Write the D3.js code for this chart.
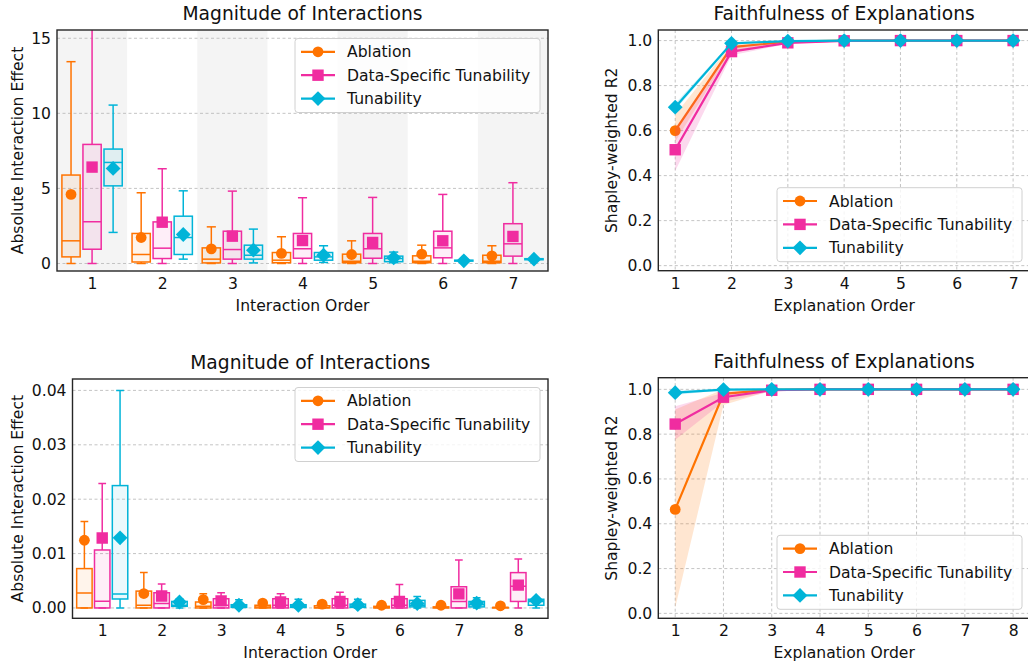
<!DOCTYPE html>
<html>
<head>
<meta charset="utf-8">
<script src="https://cdn.jsdelivr.net/npm/d3@7"></script>
<style>
body { margin: 0; background: #fff; }
svg { font-family: "DejaVu Sans", sans-serif; }
</style>
</head>
<body>
<div id="chart"></div>
<script>
const methods = ["Ablation", "Data-Specific Tunability", "Tunability"];
const colors = ["#ff7300", "#f02ca0", "#00b4d8"];

// top-left: box stats [low, q1, median, q3, high] per interaction order
const topOrders = [1, 2, 3, 4, 5, 6, 7];
const topAblationBox = [[0, 0.44, 1.51, 5.89, 13.44], [0, 0.1, 0.6, 2.0, 4.71], [0, 0.04, 0.29, 1.04, 2.44],
    [0, 0.05, 0.22, 0.73, 1.78], [0, 0.05, 0.15, 0.62, 1.51], [0, 0.05, 0.15, 0.51, 1.22], [0, 0.05, 0.15, 0.55, 1.18]];
const topAblationMean = [4.6, 1.73, 0.97, 0.67, 0.6, 0.62, 0.51];
const topDstBox = [[0, 0.95, 2.78, 7.93, 17.5], [0, 0.33, 1.02, 2.77, 6.31], [0, 0.29, 0.93, 2.15, 4.82],
    [0, 0.35, 0.98, 2.0, 4.38], [0, 0.35, 0.98, 2.0, 4.4], [0, 0.38, 1.04, 2.15, 4.6], [0, 0.49, 1.31, 2.65, 5.38]];
const topDstMean = [6.42, 2.75, 1.82, 1.53, 1.4, 1.51, 1.8];
const topTunBox = [[2.07, 5.17, 6.73, 7.62, 10.55], [0.29, 0.6, 1.73, 3.15, 4.84], [0.04, 0.29, 0.55, 1.22, 2.29],
    [0.07, 0.22, 0.44, 0.73, 1.18], [0.05, 0.12, 0.33, 0.49, 0.76], [0.12, 0.16, 0.19, 0.22, 0.28], [0.2, 0.25, 0.28, 0.32, 0.38]];
const topTunMean = [6.33, 1.93, 0.89, 0.55, 0.38, 0.18, 0.29];
const topYTicks = [0, 5, 10, 15];

// bottom-left
const botOrders = [1, 2, 3, 4, 5, 6, 7, 8];
const botAblationBox = [[0, 0, 0.00276, 0.00724, 0.0159], [0, 0, 0.0005, 0.0031, 0.0065], [0, 0, 0.0003, 0.0011, 0.0026],
    [0, 0, 0.0002, 0.0005, 0.0009], [0, 0, 0.0001, 0.0004, 0.0007], [0, 0, 0.0001, 0.0003, 0.0005],
    [0, 0, 0.0001, 0.0002, 0.0004], [0, 0, 0.0001, 0.0001, 0.0003]];
const botAblationMean = [0.01245, 0.00265, 0.00154, 0.0009, 0.0007, 0.0005, 0.0005, 0.0004];
const botDstBox = [[0, 0, 0.00123, 0.01066, 0.02287], [0, 0, 0.0008, 0.0028, 0.0044], [0, 0, 0.0005, 0.0017, 0.0028],
    [0, 0, 0.0005, 0.0017, 0.0026], [0, 0, 0.0005, 0.0017, 0.0029], [0, 0, 0.0005, 0.0017, 0.0043],
    [0, 0, 0.0012, 0.0039, 0.0088], [0, 0.0012, 0.0040, 0.0065, 0.009]];
const botDstMean = [0.01287, 0.0022, 0.0013, 0.0011, 0.0012, 0.0012, 0.0026, 0.0042];
const botTunBox = [[0, 0.00165, 0.00257, 0.0225, 0.040], [0, 0.0003, 0.0005, 0.0012, 0.0017], [0, 0.0001, 0.0003, 0.0006, 0.0015],
    [0, 0.0001, 0.0003, 0.0006, 0.0016], [0, 0.0001, 0.0003, 0.0007, 0.0016], [0, 0.0002, 0.0005, 0.0014, 0.0021],
    [0, 0.0002, 0.0006, 0.0012, 0.0019], [0, 0.0005, 0.0012, 0.0016, 0.0019]];
const botTunMean = [0.0129, 0.0011, 0.0005, 0.0005, 0.0006, 0.0008, 0.0009, 0.0014];
const botYTicks = [0, 0.01, 0.02, 0.03, 0.04];

// top-right: mean R2 and band per explanation order
const rtOrders = [1, 2, 3, 4, 5, 6, 7];
const rtAblation = [0.60, 0.971, 0.995, 1.0, 1.0, 1.0, 1.0];
const rtAblationLo = [0.55, 0.955, 0.99, 0.999, 1.0, 1.0, 1.0];
const rtAblationHi = [0.67, 0.985, 0.999, 1.0, 1.0, 1.0, 1.0];
const rtDst = [0.515, 0.951, 0.99, 0.999, 1.0, 1.0, 1.0];
const rtDstLo = [0.42, 0.935, 0.985, 0.998, 1.0, 1.0, 1.0];
const rtDstHi = [0.61, 0.975, 0.995, 1.0, 1.0, 1.0, 1.0];
const rtTun = [0.704, 0.988, 0.998, 1.0, 1.0, 1.0, 1.0];
const rtTunLo = [0.69, 0.983, 0.997, 1.0, 1.0, 1.0, 1.0];
const rtTunHi = [0.72, 0.993, 0.999, 1.0, 1.0, 1.0, 1.0];

// bottom-right
const rbOrders = [1, 2, 3, 4, 5, 6, 7, 8];
const rbAblation = [0.464, 0.98, 0.998, 1.0, 1.0, 1.0, 1.0, 1.0];
const rbAblationLo = [0.025, 0.93, 0.995, 1.0, 1.0, 1.0, 1.0, 1.0];
const rbAblationHi = [0.91, 1.0, 1.0, 1.0, 1.0, 1.0, 1.0, 1.0];
const rbDst = [0.845, 0.965, 0.996, 1.0, 1.0, 1.0, 1.0, 1.0];
const rbDstLo = [0.775, 0.945, 0.99, 1.0, 1.0, 1.0, 1.0, 1.0];
const rbDstHi = [0.925, 0.985, 1.0, 1.0, 1.0, 1.0, 1.0, 1.0];
const rbTun = [0.985, 0.999, 1.0, 1.0, 1.0, 1.0, 1.0, 1.0];
const rbTunLo = [0.975, 0.997, 1.0, 1.0, 1.0, 1.0, 1.0, 1.0];
const rbTunHi = [0.995, 1.0, 1.0, 1.0, 1.0, 1.0, 1.0, 1.0];
const r2Ticks = [0, 0.2, 0.4, 0.6, 0.8, 1.0];

const width = 1028, height = 665;
const fs = 15.6, titleFs = 18.7;

const svg = d3.select("#chart").append("svg")
    .attr("width", width).attr("height", height);

const markers = [
    d3.symbol(d3.symbolCircle, Math.PI * 5.4 * 5.4)(),
    d3.symbol(d3.symbolSquare, 11.4 * 11.4)(),
    "M0,-7.4L7.4,0L0,7.4L-7.4,0Z"
];

function legend(g, left, top) {
    g.append("rect")
        .attr("x", left).attr("y", top).attr("width", 245).attr("height", 74)
        .attr("rx", 3).attr("fill", "#fff").attr("fill-opacity", 0.8)
        .attr("stroke", "#d0d0d0").attr("stroke-width", 1);
    methods.forEach((m, i) => {
        const yy = top + 13.3 + i * 23.4;
        g.append("line").attr("x1", left + 6).attr("x2", left + 40)
            .attr("y1", yy).attr("y2", yy)
            .attr("stroke", colors[i]).attr("stroke-width", 2.2);
        g.append("path").attr("d", markers[i])
            .attr("transform", `translate(${left + 23},${yy})`)
            .attr("fill", colors[i]);
        g.append("text").attr("x", left + 52).attr("y", yy).attr("dy", "0.36em")
            .attr("font-size", fs).attr("fill", "#111").text(m);
    });
}

function axesText(g, box, title, xLabel, yLabel, yLabelX) {
    g.append("text").attr("x", (box.L + Math.min(box.R, 1100)) / 2).attr("y", box.T - 10)
        .attr("text-anchor", "middle").attr("font-size", titleFs).attr("fill", "#111").text(title);
    g.append("text").attr("x", (box.L + box.R) / 2).attr("y", box.B + 40)
        .attr("text-anchor", "middle").attr("font-size", fs).attr("fill", "#111").text(xLabel);
    g.append("text")
        .attr("transform", `translate(${yLabelX},${(box.T + box.B) / 2}) rotate(-90)`)
        .attr("text-anchor", "middle").attr("font-size", fs).attr("fill", "#111").text(yLabel);
}

function styleAxis(sel) {
    sel.select(".domain").remove();
    sel.selectAll("text").attr("font-size", fs).attr("fill", "#111")
        .attr("font-family", "DejaVu Sans, sans-serif");
}

function boxPanel(cfg) {
    const { L, R, T, B } = cfg.box;
    const n = cfg.orders.length;
    const x = d3.scaleLinear().domain([0.5, n + 0.5]).range([L, R]);
    const y = d3.scaleLinear().domain(cfg.yDomain).range([B, T]);
    const g = svg.append("g");
    const clipId = "clip" + cfg.id;
    g.append("clipPath").attr("id", clipId)
        .append("rect").attr("x", L).attr("y", T).attr("width", R - L).attr("height", B - T);

    if (cfg.bands) {
        g.selectAll(".band").data(cfg.orders.filter(o => o % 2 === 1)).join("rect")
            .attr("x", d => x(d - 0.5)).attr("width", x(1) - x(0))
            .attr("y", T).attr("height", B - T).attr("fill", "#f4f4f4");
    }

    g.selectAll(".grid").data(cfg.yTicks).join("line")
        .attr("x1", L).attr("x2", R).attr("y1", d => y(d)).attr("y2", d => y(d))
        .attr("stroke", "#b5b5b5").attr("stroke-width", 0.8).attr("stroke-dasharray", "3,2.5");

    const plot = g.append("g").attr("clip-path", `url(#${clipId})`);
    const offsets = [-0.3, 0, 0.3];
    const bw = x(0.26) - x(0);
    cfg.boxes.forEach((boxes, m) => {
        const col = colors[m];
        boxes.forEach((s, i) => {
            const cx = x(cfg.orders[i] + offsets[m]);
            const [lo, q1, med, q3, hi] = s;
            const bg = plot.append("g").attr("stroke", col).attr("stroke-width", 1.5);
            bg.append("line").attr("x1", cx).attr("x2", cx).attr("y1", y(lo)).attr("y2", y(q1));
            bg.append("line").attr("x1", cx).attr("x2", cx).attr("y1", y(q3)).attr("y2", y(hi));
            bg.append("line").attr("x1", cx - bw / 4).attr("x2", cx + bw / 4).attr("y1", y(lo)).attr("y2", y(lo));
            bg.append("line").attr("x1", cx - bw / 4).attr("x2", cx + bw / 4).attr("y1", y(hi)).attr("y2", y(hi));
            bg.append("rect").attr("x", cx - bw / 2).attr("width", bw)
                .attr("y", y(q3)).attr("height", Math.max(0.5, y(q1) - y(q3)))
                .attr("fill", col).attr("fill-opacity", 0.08);
            bg.append("line").attr("x1", cx - bw / 2).attr("x2", cx + bw / 2).attr("y1", y(med)).attr("y2", y(med));
        });
    });
    cfg.means.forEach((means, m) => {
        plot.selectAll(null).data(means).join("path")
            .attr("d", markers[m])
            .attr("transform", (d, i) => `translate(${x(cfg.orders[i] + offsets[m])},${y(d)})`)
            .attr("fill", colors[m]);
    });

    g.append("rect").attr("x", L).attr("y", T).attr("width", R - L).attr("height", B - T)
        .attr("fill", "none").attr("stroke", "#262626").attr("stroke-width", 1.4);

    g.append("g").attr("transform", `translate(0,${B})`)
        .call(d3.axisBottom(x).tickValues(cfg.orders).tickFormat(d3.format("d")).tickSize(0).tickPadding(7))
        .call(styleAxis);
    g.append("g").attr("transform", `translate(${L},0)`)
        .call(d3.axisLeft(y).tickValues(cfg.yTicks).tickFormat(cfg.yFormat).tickSize(0).tickPadding(6))
        .call(styleAxis);

    legend(g, R - 8 - 245, T + 8.5);
    axesText(g, cfg.box, "Magnitude of Interactions", "Interaction Order", "Absolute Interaction Effect", 23);
}

function linePanel(cfg) {
    const { L, R, T, B } = cfg.box;
    const n = cfg.orders.length;
    const pad = (n - 1) * 0.05;
    const x = d3.scaleLinear().domain([1 - pad, n + pad]).range([L, R]);
    const y = d3.scaleLinear().domain(cfg.yDomain).range([B, T]);
    const g = svg.append("g");

    const gridStyle = s => s.attr("stroke", "#b5b5b5").attr("stroke-width", 0.8).attr("stroke-dasharray", "3,2.5");
    g.selectAll(".gy").data(r2Ticks).join("line")
        .attr("x1", L).attr("x2", R).attr("y1", d => y(d)).attr("y2", d => y(d)).call(gridStyle);
    g.selectAll(".gx").data(cfg.orders).join("line")
        .attr("x1", d => x(d)).attr("x2", d => x(d)).attr("y1", T).attr("y2", B).call(gridStyle);

    const line = d3.line().x((d, i) => x(cfg.orders[i])).y(d => y(d));
    cfg.series.forEach((s, m) => {
        const area = d3.area().x((d, i) => x(cfg.orders[i]))
            .y0((d, i) => y(s.lo[i])).y1((d, i) => y(s.hi[i]));
        g.append("path").datum(s.mean).attr("d", area)
            .attr("fill", colors[m]).attr("fill-opacity", 0.18);
        g.append("path").datum(s.mean).attr("d", line)
            .attr("fill", "none").attr("stroke", colors[m]).attr("stroke-width", 2.2);
        g.selectAll(null).data(s.mean).join("path")
            .attr("d", markers[m])
            .attr("transform", (d, i) => `translate(${x(cfg.orders[i])},${y(d)})`)
            .attr("fill", colors[m]);
    });

    g.append("rect").attr("x", L).attr("y", T).attr("width", R - L).attr("height", B - T)
        .attr("fill", "none").attr("stroke", "#262626").attr("stroke-width", 1.4);

    g.append("g").attr("transform", `translate(0,${B})`)
        .call(d3.axisBottom(x).tickValues(cfg.orders).tickFormat(d3.format("d")).tickSize(0).tickPadding(7))
        .call(styleAxis);
    g.append("g").attr("transform", `translate(${L},0)`)
        .call(d3.axisLeft(y).tickValues(r2Ticks).tickFormat(d3.format(".1f")).tickSize(0).tickPadding(6))
        .call(styleAxis);

    legend(g, R - 8 - 245, B - 9 - 74);
    axesText(g, cfg.box, "Faithfulness of Explanations", "Explanation Order", "Shapley-weighted R2", 616.5);
}

boxPanel({
    id: "tl", box: { L: 57, R: 548, T: 30, B: 271 }, orders: topOrders, bands: true,
    yDomain: [-0.5, 15.55], yTicks: topYTicks, yFormat: d3.format("d"),
    boxes: [topAblationBox, topDstBox, topTunBox], means: [topAblationMean, topDstMean, topTunMean]
});
boxPanel({
    id: "bl", box: { L: 72.5, R: 548, T: 379, B: 618.3 }, orders: botOrders, bands: false,
    yDomain: [-0.0019, 0.0421], yTicks: botYTicks, yFormat: d3.format(".2f"),
    boxes: [botAblationBox, botDstBox, botTunBox], means: [botAblationMean, botDstMean, botTunMean]
});
linePanel({
    box: { L: 658.3, R: 1030, T: 30, B: 270.7 }, orders: rtOrders, yDomain: [-0.0225, 1.047],
    series: [
        { mean: rtAblation, lo: rtAblationLo, hi: rtAblationHi },
        { mean: rtDst, lo: rtDstLo, hi: rtDstHi },
        { mean: rtTun, lo: rtTunLo, hi: rtTunHi }
    ]
});
linePanel({
    box: { L: 658.3, R: 1030, T: 377.7, B: 618.3 }, orders: rbOrders, yDomain: [-0.022, 1.052],
    series: [
        { mean: rbAblation, lo: rbAblationLo, hi: rbAblationHi },
        { mean: rbDst, lo: rbDstLo, hi: rbDstHi },
        { mean: rbTun, lo: rbTunLo, hi: rbTunHi }
    ]
});
</script>
</body>
</html>
